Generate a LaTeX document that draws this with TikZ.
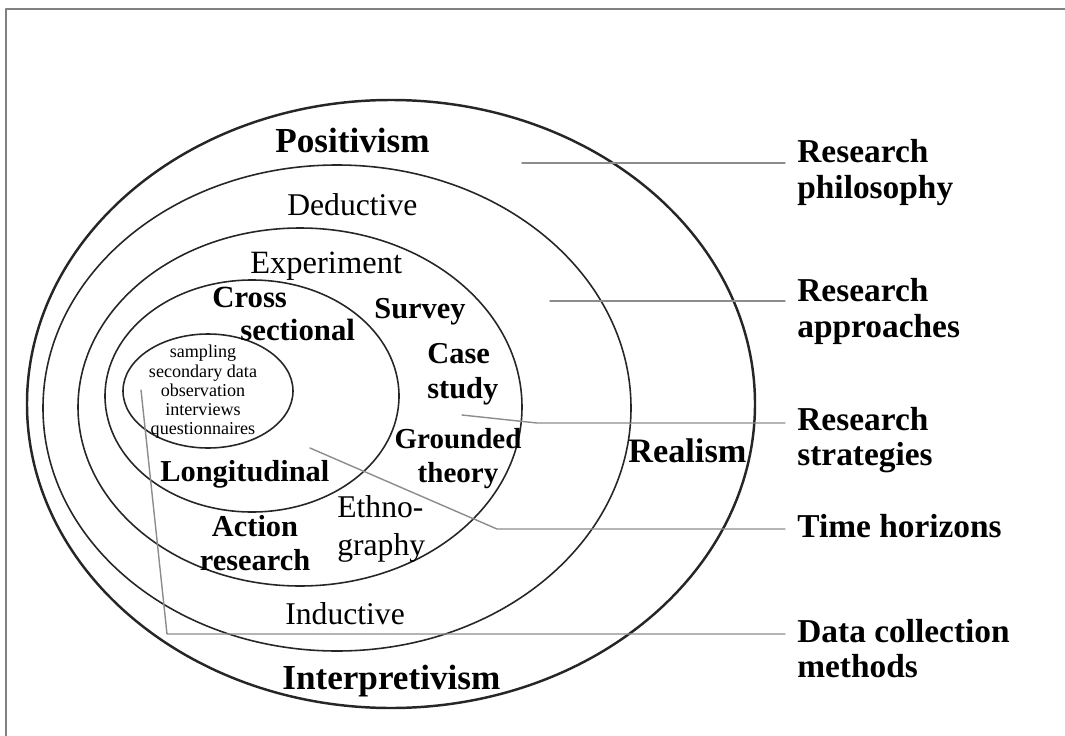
\documentclass[tikz,border=0pt]{standalone}
\usepackage{fontspec}
\setmainfont{Liberation Serif}
\begin{document}
\begin{tikzpicture}[line cap=round, line join=round]
	\tikzset{ring style/.style={draw=black!85, line width=0.9pt},
		lead style/.style={draw=black!45, line width=0.8pt},
		text style/.style={inner sep=0pt, anchor=north west},
		big style/.style={text style, font=\fontsize{20}{23}\selectfont\bfseries},
		bold style/.style={text style, font=\fontsize{17.3}{19.4}\selectfont\bfseries},
		mid style/.style={text style, font=\fontsize{18}{22}\selectfont},
		small style/.style={text style, font=\fontsize{10.3}{10.9}\selectfont},
		side style/.style={inner xsep=0.24cm, inner ysep=0pt, anchor=north west, align=left, font=\fontsize{19}{20.3}\selectfont\bfseries}}
	\useasboundingbox (0,0) rectangle (21.3,-14.72);
	\draw[black!50, line width=0.8pt] (0.12,-14.72) -- (0.12,-0.18) -- (21.3,-0.18);
	% the five rings
	\draw[ring style, line width=1.4pt] (7.82,-8.08) ellipse [x radius=7.28, y radius=6.08];
	\draw[ring style] (6.74,-8.16) ellipse [x radius=5.88, y radius=4.86];
	\draw[ring style] (6.00,-8.14) ellipse [x radius=4.44, y radius=3.58];
	\draw[ring style] (5.04,-7.92) ellipse [x radius=2.94, y radius=2.32];
	\draw[ring style] (4.16,-7.82) ellipse [x radius=1.70, y radius=1.14];
	% labels inside the rings
	\node (pos) [big style] at (5.50,-2.56) {Positivism};
	\node (ded) [mid style] at (5.74,-3.86) {Deductive};
	\node (exper) [mid style, font=\fontsize{18.5}{22}\selectfont] at (5.00,-5.04) {Experiment};
	\node (cross) [bold style, align=left, font=\fontsize{17.5}{18.8}\selectfont\bfseries] at (4.24,-5.74) {Cross\\\hspace*{16pt}sectional};
	\node (surv) [bold style] at (7.48,-5.96) {Survey};
	\node (case) [bold style, align=left, font=\fontsize{17.3}{19.9}\selectfont\bfseries] at (8.54,-6.86) {Case\\study};
	\node (grnd) [bold style, align=center, anchor=north, font=\fontsize{16.5}{19.4}\selectfont\bfseries] at (9.16,-8.56) {Grounded\\theory};
	\node (longi) [bold style] at (3.20,-9.20) {Longitudinal};
	\node (act) [bold style, align=center, anchor=north] at (5.10,-10.30) {Action\\research};
	\node (eth) [mid style, align=left] at (6.74,-9.90) {Ethno-\\graphy};
	\node (ind) [mid style] at (5.70,-12.04) {Inductive};
	\node (interp) [big style] at (5.64,-13.30) {Interpretivism};
	\node (real) [big style, font=\fontsize{19.5}{22}\selectfont\bfseries] at (12.56,-8.76) {Realism};
	\node (meth) [small style, align=center, anchor=north] at (4.06,-6.90) {sampling\\secondary data\\observation\\interviews\\questionnaires};
	% layer names on the right
	\node (phil) [side style] at (15.70,-2.78) {Research\\philosophy};
	\node (appr) [side style] at (15.70,-5.56) {Research\\approaches};
	\node (strat) [side style] at (15.70,-8.13) {Research\\strategies};
	\node (time) [side style] at (15.70,-10.27) {Time horizons};
	\node (data) [side style] at (15.70,-12.37) {Data collection\\methods};
	\coordinate (sphil) at (10.44,-3.26);
	\coordinate (sappr) at (11.00,-6.02);
	\coordinate (sstrat) at (9.24,-8.30);
	\coordinate (bstrat) at (10.74,-8.46);
	\coordinate (stime) at (6.20,-8.96);
	\coordinate (btime) at (9.94,-10.58);
	\coordinate (sdata) at (2.82,-7.80);
	\coordinate (bdata) at (3.34,-12.68);
	\draw[lead style] (sphil) -- (sphil -| phil.west);
	\draw[lead style] (sappr) -- (sappr -| appr.west);
	\draw[lead style] (sstrat) -- (bstrat) -- (bstrat -| strat.west);
	\draw[lead style] (stime) -- (btime) -- (btime -| time.west);
	\draw[lead style] (sdata) -- (bdata) -- (bdata -| data.west);
\end{tikzpicture}
\end{document}
